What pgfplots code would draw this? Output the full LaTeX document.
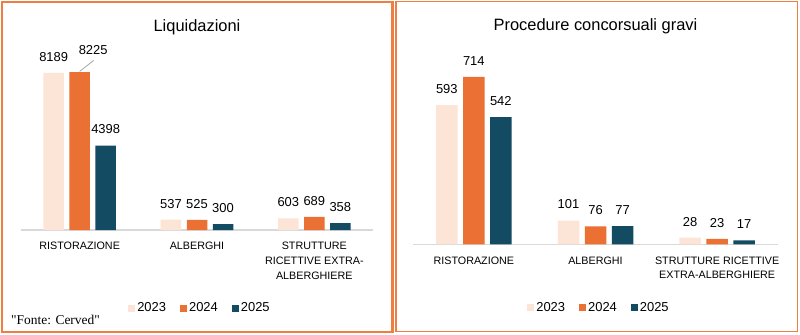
\documentclass[border=0pt]{standalone}
\usepackage{pgfplots}
\pgfplotsset{compat=1.18}
\usepackage{fontspec}
\setmainfont{Liberation Sans}
\newfontfamily\serifont{Liberation Serif}
\definecolor{c23}{HTML}{FCE4D6}
\definecolor{c24}{HTML}{EA7034}
\definecolor{c25}{HTML}{134B63}
\definecolor{frame}{HTML}{EE7F42}
\definecolor{axgray}{HTML}{D9D9D9}
\definecolor{leader}{HTML}{A6A6A6}
\pgfplotsset{
  mybars/.style={
    scale only axis, anchor=south west, ymin=0, clip=false,
    xmin=-0.5, xmax=2.5, xtick={0,1,2},
    ybar=5.5bp,
    axis y line=none, axis x line*=bottom,
    x axis line style={draw=axgray, line width=1.3bp},
    major tick length=0pt,
    xticklabel style={font=\fontsize{10.8}{15}\selectfont, align=center, anchor=north, inner sep=0pt, yshift=-12bp},
    nodes near coords,
    every node near coord/.append style={font=\fontsize{13}{15}\selectfont, anchor=south, inner sep=0pt, yshift=11.35bp, text=black},
    /pgf/number format/assume math mode=true,
    /pgf/number format/1000 sep={},
    title style={font=\fontsize{16.5}{19}\selectfont, anchor=center, at={(axis description cs:0.5,1)}, yshift=24bp},
    legend style={draw=none, fill=none, legend columns=-1, font=\fontsize{13}{15}\selectfont, anchor=center, at={(axis description cs:0.5,0)}, /tikz/every even column/.append style={column sep=12bp}},
    legend image code/.code={\fill[##1] (0bp,-3.5bp) rectangle (7bp,3.5bp);},
    every axis plot/.append style={draw=none},
  }
}
\begin{document}
\begin{tikzpicture}
\fill[white] (0,0) rectangle (800bp,335bp);
\useasboundingbox (0,0) rectangle (800bp,335bp);
\draw[frame, line width=2.5bp] (2.2bp,3bp) rectangle (392.5bp,333bp);
\draw[frame, line width=1.6bp] (396bp,3.5bp) rectangle (797.5bp,333.4bp);
\node[font=\serifont\fontsize{13.5}{15}\selectfont, anchor=west, inner sep=0pt] at (11bp,15bp) {"Fonte: Cerved"};

\begin{axis}[mybars, at={(21bp,105bp)}, width=352bp, height=172.8bp, ymax=9000, bar width=20.5bp,
  title={Liquidazioni},
  xticklabels={RISTORAZIONE, ALBERGHI, {STRUTTURE\\RICETTIVE EXTRA-\\ALBERGHIERE}},
  legend style={xshift=3bp, yshift=-78bp}]
\addplot[fill=c23] coordinates {(0,8189) (1,537) (2,603)};
\addplot[fill=c24, coordinate style/.condition={x==0}{xshift=13.5bp, yshift=6bp, name=lab8225}] coordinates {(0,8225) (1,525) (2,689)};
\addplot[fill=c25] coordinates {(0,4398) (1,300) (2,358)};
\legend{2023,2024,2025}
\end{axis}
\draw[leader, line width=0.8bp] (lab8225.center) ++(0.5bp,-10.5bp) -- ++(-14bp,-11bp);

\begin{axis}[mybars, at={(413bp,90.7bp)}, width=365bp, height=187.6bp, ymax=800, bar width=21.5bp,
  title={Procedure concorsuali gravi},
  xticklabels={RISTORAZIONE, ALBERGHI, {STRUTTURE RICETTIVE\\EXTRA-ALBERGHIERE}},
  legend style={xshift=3.5bp, yshift=-63.2bp}]
\addplot[fill=c23] coordinates {(0,593) (1,101) (2,28)};
\addplot[fill=c24] coordinates {(0,714) (1,76) (2,23)};
\addplot[fill=c25] coordinates {(0,542) (1,77) (2,17)};
\legend{2023,2024,2025}
\end{axis}
\end{tikzpicture}
\end{document}
